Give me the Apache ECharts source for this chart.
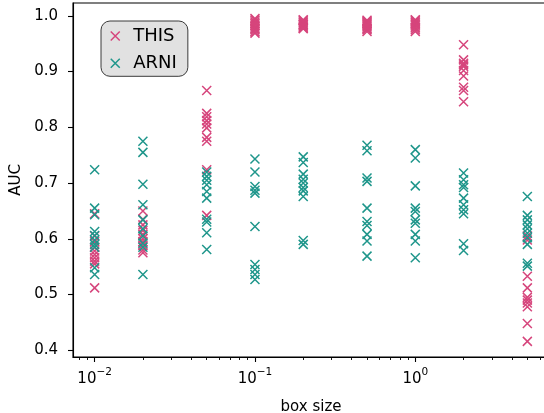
<!DOCTYPE html>
<html>
<head>
<meta charset="utf-8">
<script src="https://cdn.jsdelivr.net/npm/echarts@6/dist/echarts.min.js"></script>
<style>
  html, body { margin: 0; padding: 0; background: #fff; }
  #chart { width: 544px; height: 413px; }
</style>
</head>
<body>
<div id="chart"></div>
<script>
// Box sizes tested (x, log scale)
const boxSizes = [0.01, 0.02, 0.05, 0.1, 0.2, 0.5, 1, 2, 5];

// AUC per box size, one row per box size
const thisAuc = [
  [0.645, 0.605, 0.595, 0.585, 0.578, 0.572, 0.566, 0.560, 0.555, 0.512],
  [0.650, 0.635, 0.625, 0.615, 0.608, 0.600, 0.595, 0.588, 0.580, 0.575],
  [0.866, 0.825, 0.819, 0.812, 0.806, 0.799, 0.782, 0.775, 0.724, 0.642],
  [0.995, 0.992, 0.989, 0.986, 0.983, 0.980, 0.977, 0.975, 0.972, 0.969],
  [0.993, 0.991, 0.989, 0.987, 0.985, 0.984, 0.982, 0.980, 0.978, 0.977],
  [0.992, 0.990, 0.988, 0.986, 0.984, 0.982, 0.980, 0.977, 0.975, 0.972],
  [0.993, 0.991, 0.989, 0.987, 0.985, 0.983, 0.980, 0.978, 0.975, 0.972],
  [0.948, 0.921, 0.915, 0.912, 0.909, 0.902, 0.892, 0.872, 0.866, 0.846],
  [0.605, 0.598, 0.533, 0.512, 0.495, 0.490, 0.485, 0.478, 0.448, 0.416]
];
const arniAuc = [
  [0.724, 0.655, 0.643, 0.613, 0.606, 0.598, 0.590, 0.585, 0.548, 0.536],
  [0.775, 0.755, 0.698, 0.661, 0.634, 0.618, 0.605, 0.592, 0.585, 0.536],
  [0.720, 0.712, 0.705, 0.697, 0.685, 0.673, 0.635, 0.630, 0.611, 0.581],
  [0.743, 0.720, 0.694, 0.687, 0.682, 0.622, 0.554, 0.545, 0.536, 0.527],
  [0.747, 0.737, 0.716, 0.707, 0.700, 0.692, 0.686, 0.676, 0.597, 0.590],
  [0.768, 0.758, 0.709, 0.703, 0.655, 0.631, 0.624, 0.608, 0.596, 0.569],
  [0.760, 0.745, 0.695, 0.655, 0.649, 0.634, 0.628, 0.608, 0.596, 0.566],
  [0.718, 0.706, 0.697, 0.692, 0.673, 0.661, 0.652, 0.645, 0.591, 0.579],
  [0.676, 0.642, 0.634, 0.625, 0.618, 0.610, 0.602, 0.590, 0.556, 0.551]
];

const seriesNames = ['THIS', 'ARNI'];
const yTicks = [0.4, 0.5, 0.6, 0.7, 0.8, 0.9, 1.0];
const xMajorExp = [-2, -1, 0];

const PINK = '#d6457c';
const TEAL = '#1f968b';
const FONT = 'DejaVu Sans';
const X_MARK = 'path://M0,0L10,10M10,0L0,10';

// x runs on log10(box size)
const X_MIN = -2.135, X_MAX = 0.834;
const Y_MIN = 0.388, Y_MAX = 1.023;

function toPoints(rows) {
  const pts = [];
  rows.forEach((vals, i) => vals.forEach(v => pts.push([Math.log10(boxSizes[i]), v])));
  return pts;
}

// minor ticks at k * 10^n inside the visible range
const xMinor = [];
for (let n = -3; n <= 0; n++) {
  for (let k = 2; k <= 9; k++) {
    const lv = Math.log10(k * Math.pow(10, n));
    if (lv >= X_MIN && lv <= X_MAX) xMinor.push(lv);
  }
}

const chart = echarts.init(document.getElementById('chart'), null, { renderer: 'canvas' });

const markStyle = c => ({ color: 'transparent', borderColor: c, borderWidth: 1.5, opacity: 1 });

chart.setOption({
  animation: false,
  backgroundColor: '#fff',
  textStyle: { fontFamily: FONT },
  grid: {
    left: 73, top: 3, right: -5, bottom: 56,
    outerBoundsMode: 'none', containLabel: false,
    show: true, borderColor: '#000', borderWidth: 1.1, backgroundColor: 'transparent'
  },
  legend: {
    orient: 'vertical',
    left: 101, top: 21,
    padding: [6, 11, 4, 9],
    itemWidth: 26, itemHeight: 9, itemGap: 9.3,
    backgroundColor: '#e1e1e1',
    borderColor: '#3a3a3a', borderWidth: 1, borderRadius: 9,
    textStyle: { fontFamily: FONT, fontSize: 18, lineHeight: 18, color: '#000' },
    data: [
      { name: seriesNames[0], icon: X_MARK, itemStyle: markStyle(PINK) },
      { name: seriesNames[1], icon: X_MARK, itemStyle: markStyle(TEAL) }
    ]
  },
  xAxis: [
    {
      type: 'value', min: X_MIN, max: X_MAX,
      name: 'box size', nameLocation: 'middle', nameGap: 43,
      nameTextStyle: { fontFamily: FONT, fontSize: 15, color: '#000' },
      axisLine: { show: true, onZero: false, lineStyle: { color: '#000', width: 1.1 } },
      axisTick: { show: true, length: 5, lineStyle: { color: '#000', width: 1.1 }, customValues: xMajorExp },
      splitLine: { show: false },
      axisLabel: {
        margin: 10,
        customValues: xMajorExp,
        formatter: v => '{b|10}{s|' + (v < 0 ? '\u2212' + (-v) : String(v)) + '}',
        rich: {
          b: { fontFamily: FONT, fontSize: 15, color: '#000', lineHeight: 20, verticalAlign: 'bottom' },
          s: { fontFamily: FONT, fontSize: 10.5, color: '#000', lineHeight: 20, verticalAlign: 'top' }
        }
      }
    },
    {
      type: 'value', min: X_MIN, max: X_MAX, position: 'bottom',
      axisLine: { show: false, onZero: false },
      axisTick: { show: true, length: 3, lineStyle: { color: '#000', width: 0.9 }, customValues: xMinor },
      axisLabel: { show: false },
      splitLine: { show: false }
    }
  ],
  yAxis: {
    type: 'value', min: Y_MIN, max: Y_MAX,
    name: 'AUC', nameLocation: 'middle', nameGap: 40,
    nameTextStyle: { fontFamily: FONT, fontSize: 15, color: '#000' },
    axisLine: { show: true, onZero: false, lineStyle: { color: '#000', width: 1.1 } },
    axisTick: { show: true, length: 5, lineStyle: { color: '#000', width: 1.1 }, customValues: yTicks },
    splitLine: { show: false },
    axisLabel: {
      margin: 15, customValues: yTicks,
      formatter: v => v.toFixed(1),
      fontFamily: FONT, fontSize: 15, color: '#000'
    }
  },
  series: [
    {
      name: seriesNames[0], type: 'scatter', xAxisIndex: 0,
      symbol: X_MARK, symbolSize: 9,
      itemStyle: markStyle(PINK),
      emphasis: { disabled: true },
      data: toPoints(thisAuc)
    },
    {
      name: seriesNames[1], type: 'scatter', xAxisIndex: 0,
      symbol: X_MARK, symbolSize: 9,
      itemStyle: markStyle(TEAL),
      emphasis: { disabled: true },
      data: toPoints(arniAuc)
    }
  ]
});
</script>
</body>
</html>
